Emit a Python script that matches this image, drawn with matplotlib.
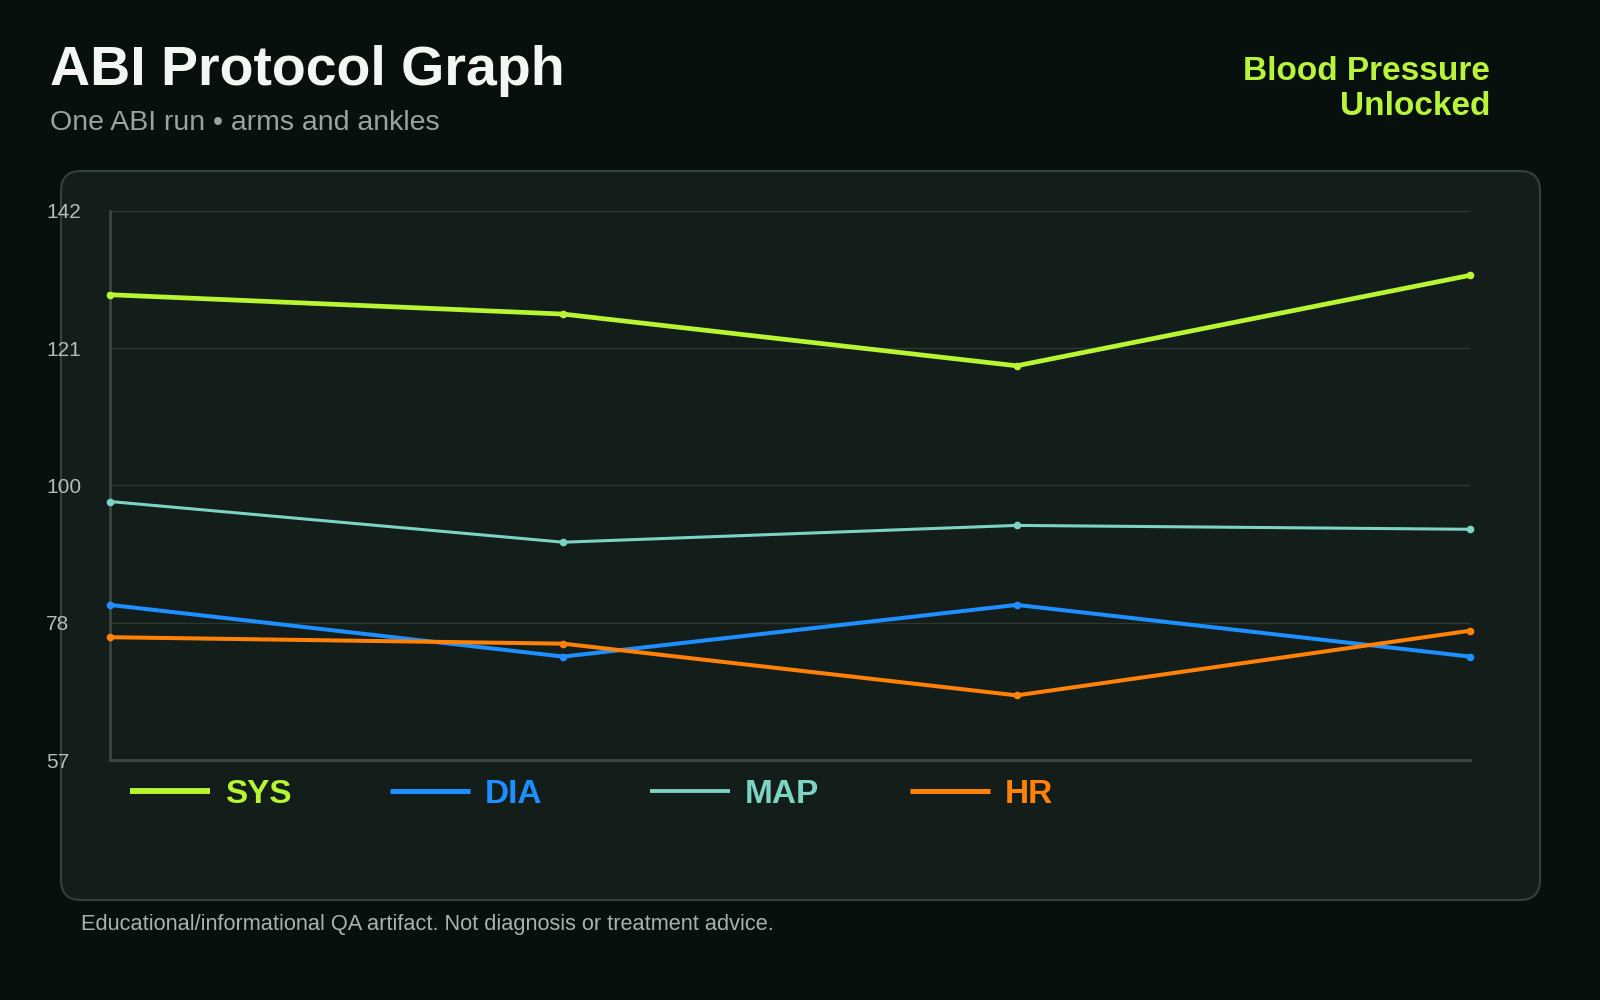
import numpy as np
import matplotlib
matplotlib.use('Agg')
import matplotlib.pyplot as plt
from matplotlib.patches import FancyBboxPatch
from matplotlib.lines import Line2D

# Data
steps = [0, 1, 2, 3]
sys_vals = [129, 126, 118, 132]
dia_vals = [81, 73, 81, 73]
map_vals = [97.0, 90.7, 93.3, 92.7]
hr_vals = [76, 75, 67, 77]
y_min, y_max = 57, 142
y_ticks = np.linspace(y_min, y_max, 5)
y_tick_labels = ['57', '78', '100', '121', '142']

series_names = ['SYS', 'DIA', 'MAP', 'HR']
series_vals = [sys_vals, dia_vals, map_vals, hr_vals]
series_colors = ['#b8f532', '#1e8fff', '#7dd4c2', '#ff8108']
series_lw = [3.4, 2.9, 2.2, 2.9]

# Colors
bg_color = '#08100d'
card_color = '#131d19'
card_edge = '#35413b'
grid_color = '#2c3731'
spine_color = '#3b4640'
title_color = '#f3f6f1'
sub_color = '#9aa39e'
tick_color = '#b5bdb8'
accent = '#b8f53a'

plt.rcParams['font.family'] = ['Liberation Sans', 'DejaVu Sans']

W, H = 1600, 1000
fig = plt.figure(figsize=(16, 10), dpi=100, facecolor=bg_color)


def fx(x):
    return x / W


def fy(y):
    return 1 - y / H


# Card behind the chart
card = FancyBboxPatch((0.61, 1.0), 14.79, 7.29,
                      boxstyle='round,pad=0,rounding_size=0.2',
                      transform=fig.dpi_scale_trans,
                      facecolor=card_color, edgecolor=card_edge,
                      linewidth=1.5, zorder=-5)
fig.patches.append(card)

# Header
fig.text(fx(50), fy(85), 'ABI Protocol Graph', fontsize=40, fontweight='bold',
         color=title_color, ha='left', va='baseline')
fig.text(fx(50), fy(130), 'One ABI run \u2022 arms and ankles', fontsize=20.5,
         color=sub_color, ha='left', va='baseline')
fig.text(fx(1490), fy(80), 'Blood Pressure', fontsize=24, fontweight='bold',
         color=accent, ha='right', va='baseline')
fig.text(fx(1490), fy(115), 'Unlocked', fontsize=24, fontweight='bold',
         color=accent, ha='right', va='baseline')
fig.text(fx(81), fy(930),
         'Educational/informational QA artifact. Not diagnosis or treatment advice.',
         fontsize=15.7, color='#a9b1ac', ha='left', va='baseline')

# Chart
ax = fig.add_axes([fx(110), fy(760), fx(1470 - 110), (760 - 210.7) / H])
ax.set_facecolor('none')
ax.set_xlim(0, 3)
ax.set_ylim(y_min, y_max)
ax.set_yticks(y_ticks)
ax.set_yticklabels(y_tick_labels)
ax.set_xticks([])
ax.tick_params(axis='y', length=0, pad=46, labelsize=15, labelcolor=tick_color)
for lbl in ax.get_yticklabels():
    lbl.set_ha('left')
for yt in y_ticks[1:]:
    ax.axhline(yt, color=grid_color, linewidth=1.0, zorder=1)
ax.spines['top'].set_visible(False)
ax.spines['right'].set_visible(False)
ax.spines['left'].set_color(spine_color)
ax.spines['bottom'].set_color(spine_color)
ax.spines['left'].set_linewidth(2.0)
ax.spines['bottom'].set_linewidth(2.2)

for vals, color, lw in zip(series_vals, series_colors, series_lw):
    ax.plot(steps, vals, color=color, linewidth=lw, marker='o',
            markersize=5.5, markeredgewidth=0, clip_on=False, zorder=3)

# Legend (fixed-width items)
for i, (name, color, lw) in enumerate(zip(series_names, series_colors, series_lw)):
    x0 = 130 + 260 * i
    fig.lines.append(Line2D([fx(x0), fx(x0 + 80)], [fy(791), fy(791)],
                            transform=fig.transFigure, color=color,
                            linewidth=lw * 1.25, solid_capstyle='butt'))
    fig.text(fx(x0 + 95), fy(803), name, fontsize=24, fontweight='bold',
             color=color, ha='left', va='baseline')

plt.savefig('out.png', dpi=100, facecolor=bg_color)
